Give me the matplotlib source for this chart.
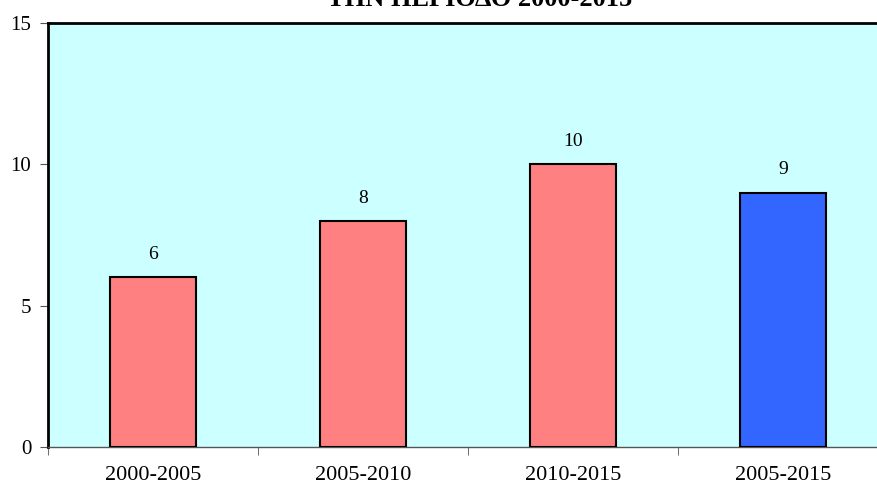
import matplotlib
matplotlib.use("Agg")
import matplotlib.pyplot as plt
import numpy as np

categories = ["2000-2005", "2005-2010", "2010-2015", "2005-2015"]
values = [6, 8, 10, 9]
bar_colors = ["#FF8080", "#FF8080", "#FF8080", "#3366FF"]
yticks = [0, 5, 10, 15]
title = "ΤΗΝ ΠΕΡΙΟΔΟ 2000-2015"

plt.rcParams['font.family'] = ['Liberation Serif', 'DejaVu Serif']

fig = plt.figure(figsize=(8.78, 4.88), dpi=100)
ax = fig.add_axes([48/878, 1-447/488, 840/878, (447-23)/488])
ax.set_facecolor("#CCFFFF")
x = np.arange(len(categories))
ax.bar(x, values, width=0.405, color=bar_colors, edgecolor="black", linewidth=1.5, zorder=3)
for xi, v in zip(x, values):
    ax.text(xi, v + 0.5, str(v), ha="center", va="bottom", fontsize=14)
ax.set_xlim(-0.5, len(categories) - 0.5)
ax.set_ylim(0, 15)
ax.set_yticks(yticks)
ax.set_yticklabels([str(t) for t in yticks], fontsize=15)
ax.set_xticks(x)
ax.set_xticklabels(categories, fontsize=16)
ax.tick_params(axis="x", length=0, pad=14)
ax.set_xticks(np.arange(len(categories) + 1) - 0.5, minor=True)
ax.tick_params(axis="x", which="minor", length=6, direction="out", color="#555555")
ax.tick_params(axis="y", length=6, direction="out", color="#555555", pad=6)
for s in ["left", "top"]:
    ax.spines[s].set_linewidth(2)
    ax.spines[s].set_color("black")
ax.spines["bottom"].set_linewidth(1)
ax.spines["bottom"].set_color("#555555")
ax.spines["right"].set_visible(False)
fig.text(480/878, 1 - 6/488, title, ha="center", va="baseline", fontsize=19, fontweight="bold")
fig.savefig("out.png", dpi=100)
